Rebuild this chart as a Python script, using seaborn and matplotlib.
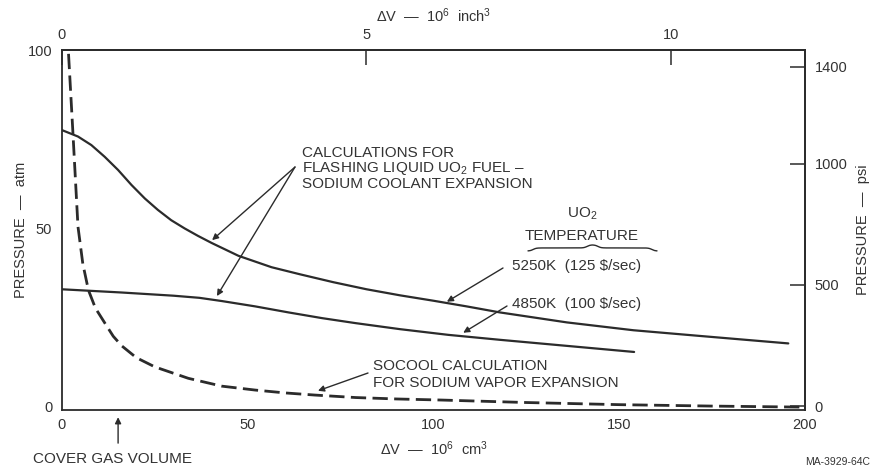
import numpy as np
import pandas as pd
import matplotlib
matplotlib.use("Agg")
import matplotlib.pyplot as plt
import seaborn as sns
from matplotlib.lines import Line2D

# ---------------- data ----------------
vol_5250 = [0.0, 4.3, 7.9, 11.5, 15.1, 18.7, 22.3, 25.8, 29.4, 33.0, 36.6, 40.3, 47.5, 56.4,
            64.1, 73.0, 82.0, 91.0, 99.9, 108.9, 117.9, 135.9, 153.8, 171.7, 195.5]
p_5250 = [77.5, 75.7, 73.3, 70.0, 66.3, 62.1, 58.3, 55.1, 52.2, 49.9, 47.8, 45.8, 42.2, 39.0,
          37.0, 34.8, 32.8, 31.1, 29.6, 28.0, 26.3, 23.5, 21.3, 19.7, 17.6]

vol_4850 = [0.0, 16.0, 30.0, 37.0, 43.0, 52.0, 61.0, 70.0, 79.0, 91.0, 104.0, 118.0, 136.0, 154.0]
p_4850 = [32.8, 31.9, 31.0, 30.4, 29.5, 28.0, 26.3, 24.7, 23.3, 21.6, 20.0, 18.6, 16.9, 15.2]

vol_socool = [1.5, 1.7, 2.9, 4.3, 5.6, 7.1, 9.0, 11.6, 13.8, 16.1, 20.0, 25.0, 34.0, 43.0, 52.0, 60.0,
              68.0, 79.0, 90.0, 102.0, 125.0, 150.0, 175.0, 200.0]
p_socool = [105, 100, 77.5, 50.4, 40.0, 32.6, 27.5, 23.2, 19.6, 16.9, 13.6, 11.0, 7.8, 5.6, 4.5, 3.7,
            3.1, 2.4, 2.0, 1.7, 1.0, 0.4, 0.0, -0.3]

x_ticks = [0, 50, 100, 150, 200]
y_ticks = [0, 50, 100]
top_ticks = [0, 5, 10]
psi_ticks = [0, 500, 1000, 1400]

CM3_PER_IN3 = 16.387
PSI_PER_ATM = 14.696

# ---------------- style ----------------
sns.set_style("white")
plt.rcParams["font.family"] = ["Liberation Sans", "DejaVu Sans"]
plt.rcParams["mathtext.fontset"] = "custom"
plt.rcParams["mathtext.rm"] = "Liberation Sans"
plt.rcParams["mathtext.it"] = "Liberation Sans:italic"
plt.rcParams["mathtext.default"] = "regular"

INK = "#2b2b2b"
TXT = "#333333"
FS = 10.5
AFS = 11

W, H = 876, 473
fig = plt.figure(figsize=(W / 100, H / 100), dpi=100)
ax = fig.add_axes([62 / W, 1 - 410 / H, (805 - 62) / W, (410 - 50) / H])

df_a = pd.DataFrame({"v": vol_5250, "p": p_5250})
df_b = pd.DataFrame({"v": vol_4850, "p": p_4850})
df_c = pd.DataFrame({"v": vol_socool, "p": p_socool})

sns.lineplot(data=df_a, x="v", y="p", ax=ax, color=INK, lw=1.6, sort=False)
sns.lineplot(data=df_b, x="v", y="p", ax=ax, color=INK, lw=1.6, sort=False)
sns.lineplot(data=df_c, x="v", y="p", ax=ax, color=INK, lw=2.0, sort=False)
ax.lines[-1].set_dashes((5.5, 2.3))
for ln in ax.lines:
    ln.set_solid_joinstyle("round")
    ln.set_dash_joinstyle("round")

ax.set_xlim(0, 200)
ax.set_ylim(-1.1, 100)
ax.set_xticks(x_ticks)
ax.set_yticks(y_ticks)
ax.set_xlabel(r"ΔV  —  10$^6$  cm$^3$", fontsize=FS, color=TXT, labelpad=5)
ax.set_ylabel("PRESSURE  —  atm", fontsize=FS, color=TXT, labelpad=0)

for s in ax.spines.values():
    s.set_color(INK)
    s.set_linewidth(1.3)

ax.tick_params(axis="both", direction="in", length=11, width=1.1, color=INK,
               labelsize=FS, labelcolor=TXT)
ax.tick_params(axis="x", pad=6)
ax.tick_params(axis="y", pad=7)

secx = ax.secondary_xaxis("top", functions=(lambda x: x / CM3_PER_IN3, lambda x: x * CM3_PER_IN3))
secx.set_xticks(top_ticks)
secx.tick_params(direction="in", length=11, width=1.1, color=INK, labelsize=FS,
                 labelcolor=TXT, pad=6)
secx.set_xlabel(r"ΔV  —  10$^6$  inch$^3$", fontsize=FS, color=TXT, labelpad=4)
secx.spines["top"].set_color(INK)
secx.spines["top"].set_linewidth(1.3)

secy = ax.secondary_yaxis("right", functions=(lambda y: y * PSI_PER_ATM, lambda y: y / PSI_PER_ATM))
secy.set_yticks(psi_ticks)
secy.tick_params(direction="in", length=11, width=1.1, color=INK, labelsize=FS,
                 labelcolor=TXT, pad=7)
secy.set_ylabel("PRESSURE  —  psi", fontsize=FS, color=TXT, labelpad=6)
secy.spines["right"].set_color(INK)
secy.spines["right"].set_linewidth(1.3)


def fp(x, y):
    """reference pixel (top-left origin) -> figure pixels"""
    return (x, H - y)


def label(x, y_base, s, ha="left", size=AFS):
    fig.text(x / W, 1 - y_base / H, s, fontsize=size, color=TXT, ha=ha, va="baseline")


arrow_kw = dict(arrowstyle="-|>", color=INK, lw=1.0, mutation_scale=9,
                shrinkA=0, shrinkB=0)

# Calculations annotation
ax.annotate("", xy=(40.4, 46.6), xycoords="data", xytext=fp(295, 167),
            textcoords="figure pixels", arrowprops=arrow_kw)
ax.annotate("", xy=(41.7, 30.9), xycoords="data", xytext=fp(295, 167),
            textcoords="figure pixels", arrowprops=arrow_kw)
label(302, 157, "CALCULATIONS FOR")
label(302, 172, "FLASHING LIQUID UO$_2$ FUEL –")
label(302, 188, "SODIUM COOLANT EXPANSION")

# UO2 temperature header
label(582, 218, "UO$_2$", ha="center")
label(582, 240, "TEMPERATURE", ha="center")

# curly brace under header
t = np.linspace(0, 1, 100)
k = 40.0
half = 1 / (1 + np.exp(-k * (t - 0.08))) + 1 / (1 + np.exp(-k * (t - 0.92)))
half = half / half.max()
ys = np.concatenate([half, half[::-1]])
bx0, bx1, by, bh = 528, 657, 251, 6
xs = np.linspace(bx0, bx1, ys.size)
fig.add_artist(Line2D(xs, H - (by - bh * ys), transform=None, color=INK, lw=1.0))

# temperatures
label(512, 270, "5250K  (125 \\$/sec)")
label(512, 308, "4850K  (100 \\$/sec)")
ax.annotate("", xy=(103.6, 29.3), xycoords="data", xytext=fp(503, 268),
            textcoords="figure pixels", arrowprops=arrow_kw)
ax.annotate("", xy=(108.0, 20.6), xycoords="data", xytext=fp(507, 306),
            textcoords="figure pixels", arrowprops=arrow_kw)

# SOCOOL
label(373, 370, "SOCOOL CALCULATION")
label(373, 387, "FOR SODIUM VAPOR EXPANSION")
ax.annotate("", xy=(68.9, 4.3), xycoords="data", xytext=fp(368, 373),
            textcoords="figure pixels", arrowprops=arrow_kw)

# cover gas volume
ax.annotate("", xy=(15.1, -0.02), xycoords=ax.get_xaxis_transform(),
            xytext=(15.1, -0.092), textcoords=ax.get_xaxis_transform(),
            arrowprops=arrow_kw)
label(33, 463, "COVER GAS VOLUME")

label(870, 465, "MA-3929-64C", ha="right", size=7.5)

fig.savefig("out.png", dpi=100, facecolor="white")
